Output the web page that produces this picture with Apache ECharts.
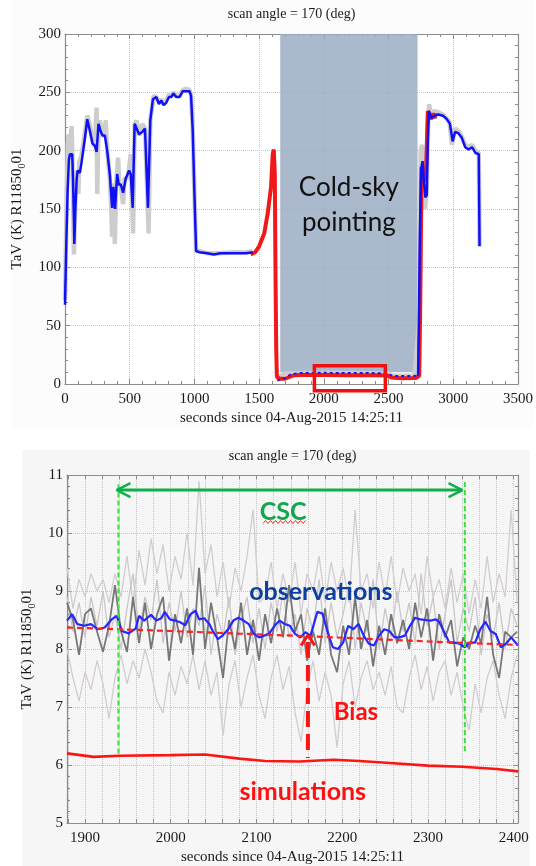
<!DOCTYPE html>
<html>
<head>
<meta charset="utf-8">
<script src="https://cdn.jsdelivr.net/npm/echarts@6.0.0/dist/echarts.min.js"></script>
<style>
  html, body { margin: 0; padding: 0; background: #fff; }
  #chart { width: 536px; height: 866px; }
</style>
</head>
<body>
<div id="chart"></div>
<script>
// ---------- top panel: full pass ----------
const topBlue = [[0,68],[10,120],[20,165],[30,192],[38,197],[56,197],[62,175],[69,140],[72,120],[80,150],[90,175],[97,183],[115,181],[128,190],[154,211],[172,227],[192,217],[213,206],[231,204],[244,199],[259,223],[274,217],[290,213],[308,213],[326,200],[346,180],[364,151],[374,169],[387,150],[403,180],[415,171],[431,171],[449,164],[469,176],[495,183],[508,180],[523,151],[538,223],[551,224],[572,214],[597,216],[618,219],[628,189],[641,151],[659,226],[679,244],[705,246],[726,240],[744,243],[762,239],[782,241],[803,246],[821,246],[838,249],[859,246],[885,246],[910,251],[936,251],[962,251],[974,247],[987,217],[1000,163],[1013,114],[1038,113],[1100,112],[1150,111],[1200,112],[1300,112],[1400,112],[1450,113],[1550,null],[2728,7],[2735,60],[2742,129],[2752,185],[2763,191],[2772,175],[2784,160],[2795,162],[2803,206],[2811,234],[2830,228],[2855,230],[2882,231],[2921,230],[2950,227],[2974,223],[2995,208],[3013,216],[3039,215],[3066,211],[3092,203],[3118,201],[3145,203],[3171,198],[3197,197],[3203,118]];
const topBlueCold = [[1640,3],[1700,5],[1740,8],[1800,9.3],[1900,9.5],[2000,9.6],[2100,9.5],[2200,9.5],[2300,9.4],[2400,9.3],[2480,9.2],[2520,7.5],[2560,6.8],[2650,6.8],[2720,7]];
const topGray = [[0,72],[12,150],[22,205],[28,214],[38,200],[51,221],[58,190],[66,130],[69,111],[75,135],[85,175],[95,183],[103,163],[110,190],[128,196],[150,212],[172,230],[192,222],[213,208],[231,205],[244,237],[249,163],[259,222],[269,226],[285,214],[300,212],[315,226],[326,200],[346,177],[358,150],[364,126],[374,172],[385,120],[395,170],[410,194],[420,172],[431,170],[449,154],[460,176],[487,177],[495,185],[508,197],[518,165],[526,129],[538,222],[551,226],[572,213],[597,223],[618,219],[628,188],[646,129],[659,226],[685,247],[705,246],[726,241],[744,244],[762,240],[782,243],[803,248],[821,247],[838,250],[859,247],[885,247],[910,252],[936,253],[962,252],[974,248],[987,218],[1000,163],[1013,114],[1038,114],[1100,112],[1200,112],[1300,113],[1400,113],[1450,114],[1550,null],[1650,6],[1700,9],[1800,9.5],[2000,9.6],[2200,9.5],[2400,9.3],[2500,9],[2530,7],[2700,7],[2740,60],[2748,200],[2760,205],[2772,180],[2782,150],[2795,165],[2803,215],[2813,240],[2825,230],[2845,234],[2880,233],[2920,231],[2970,225],[2990,205],[3013,219],[3040,217],[3066,212],[3092,205],[3118,203],[3145,205],[3171,200],[3197,198],[3203,118]];
const topRed = [[1434,111],[1470,113],[1500,118],[1539,129],[1566,146],[1592,169],[1605,197],[1613,201],[1621,180],[1626,100],[1632,30],[1637,6],[1660,4.5],[1700,4.5],[1735,6],[1770,7.5],[1850,7.8],[2000,7.8],[2200,7.6],[2400,7.5],[2490,7.3],[2520,5.5],[2600,5],[2711,5.2],[2737,7],[2745,72],[2755,186],[2768,184],[2776,174],[2789,180],[2803,234],[2816,235],[2829,227],[2842,232],[2855,228],[2868,232]];
const coldSky = [1663, 2724];          // shaded cold-sky pointing window (x)
const zoomBox = [1927, 2475, -5.7, 15.7]; // red box = lower panel range (x0, x1, y0, y1)

const topXTicks = [0, 3500, 500];
const topYTicks = [0, 300, 50];

// ---------- bottom panel: cold-sky zoom ----------
const noiseX = [1879,1886,1893,1900,1907,1914,1921,1928,1935,1942,1949,1956,1963,1970,1977,1984,1991,1998,2005,2012,2019,2026,2033,2040,2047,2054,2061,2068,2075,2082,2089,2096,2103,2110,2117,2124,2131,2138,2145,2152,2159,2166,2173,2180,2187,2194,2201,2208,2215,2222,2229,2236,2243,2250,2257,2264,2271,2278,2285,2292,2299,2306,2313,2320,2327,2334,2341,2348,2355,2362,2369,2376,2383,2390,2397,2404];
const obsDark = [8.8,8.5,7.9,8.6,8.7,8.3,7.95,8.4,9.1,8.3,7.95,8.9,8.1,8.8,8.0,8.6,8.9,7.8,8.6,8.1,8.7,7.9,9.4,8.0,8.8,8.2,7.5,8.5,8.0,8.8,7.9,8.5,7.8,8.6,8.1,8.7,8.2,9.1,8.3,8.6,7.8,8.3,7.9,8.7,7.9,7.6,8.4,7.9,8.9,8.0,8.5,7.7,8.4,7.9,8.6,8.1,8.5,8.0,8.8,8.2,8.7,7.8,8.6,8.2,8.5,7.7,8.2,8.0,8.4,8.1,8.9,7.9,7.5,8.3,8.2,8.3];
const obsLightA = [9.4,8.7,9.2,8.9,9.3,9.0,9.2,8.8,9.3,8.9,9.6,8.8,9.7,9.1,9.9,9.3,9.8,9.0,9.6,9.2,10.0,9.1,10.9,9.3,9.8,8.9,9.5,8.7,9.4,9.0,9.6,10.4,8.8,8.9,9.5,8.7,9.3,8.8,9.5,8.6,9.3,9.0,9.6,8.8,9.5,9.0,9.4,8.8,10.4,9.0,9.3,8.7,9.5,8.9,9.6,8.8,9.4,9.0,9.3,8.6,9.6,8.9,9.2,8.7,9.4,8.8,9.3,8.6,9.2,8.7,9.6,8.8,9.3,8.9,10.4,8.8];
const obsLightB = [8.0,7.5,7.1,7.6,7.3,7.8,7.4,6.8,7.5,7.9,7.4,7.8,7.5,8.0,7.6,7.1,6.9,7.6,7.2,7.7,7.4,7.9,7.3,7.8,7.2,7.6,6.5,7.4,7.8,7.0,7.5,7.9,7.2,6.8,7.5,7.9,7.3,7.7,6.9,6.4,7.3,7.8,7.1,7.6,7.2,6.3,7.4,7.8,7.0,7.5,7.8,7.3,7.6,7.2,7.7,7.0,6.9,7.5,7.9,7.3,7.7,7.1,7.6,7.8,7.2,7.6,7.0,6.6,7.4,6.9,7.5,7.8,7.2,6.8,7.5,7.9];
const obsLightC = [8.9,8.3,8.8,8.2,8.9,8.4,9.0,8.2,8.6,8.0,8.7,9.3,8.3,8.9,8.5,9.2,8.1,8.8,8.3,9.0,8.2,8.7,8.4,9.1,7.9,8.6,8.2,8.9,7.9,8.5,8.9,8.1,8.7,8.0,8.8,8.3,9.0,8.2,8.6,7.9,8.7,8.3,9.2,8.1,8.8,8.2,8.6,9.1,8.0,8.8,8.3,9.2,8.0,8.7,8.2,9.0,8.3,8.8,8.1,9.3,8.4,8.9,8.0,8.6,9.2,8.1,8.7,8.3,8.9,7.9,8.6,8.2,8.8,8.0,8.7,8.4];
const obsSmooth = [[1879,8.49],[1885,8.6],[1891,8.43],[1899,8.4],[1907,8.43],[1915,8.34],[1923,8.37],[1931,8.51],[1937,8.57],[1943,8.31],[1951,8.27],[1959,8.35],[1963,8.57],[1969,8.49],[1977,8.59],[1983,8.49],[1989,8.53],[1993,8.64],[1999,8.51],[2005,8.49],[2011,8.46],[2017,8.41],[2023,8.6],[2029,8.66],[2033,8.51],[2039,8.53],[2045,8.43],[2049,8.31],[2055,8.17],[2061,8.24],[2067,8.34],[2073,8.49],[2079,8.54],[2085,8.49],[2091,8.43],[2097,8.26],[2103,8.2],[2109,8.23],[2115,8.27],[2121,8.4],[2127,8.49],[2133,8.43],[2139,8.4],[2145,8.26],[2151,8.2],[2157,8.29],[2163,8.23],[2171,8.64],[2177,8.61],[2183,8.29],[2189,8.03],[2195,8.0],[2201,8.11],[2207,8.4],[2213,8.34],[2219,8.43],[2225,8.23],[2231,8.09],[2237,8.06],[2243,8.23],[2249,8.34],[2255,8.31],[2261,8.2],[2267,8.2],[2273,8.23],[2279,8.4],[2285,8.54],[2291,8.51],[2297,8.5],[2303,8.49],[2309,8.51],[2313,8.47],[2319,8.29],[2325,8.11],[2331,8.11],[2337,8.09],[2343,8.03],[2349,8.11],[2355,8.11],[2361,8.34],[2367,8.47],[2373,8.31],[2379,8.26],[2385,8.03],[2391,8.09],[2397,8.2],[2405,8.06]];
const obsTrend = [[1879,8.37],[2000,8.31],[2160,8.22],[2300,8.13],[2405,8.07]];
const simulation = [[1879,6.2],[1910,6.14],[1940,6.16],[2000,6.17],[2040,6.18],[2080,6.11],[2110,6.07],[2150,6.06],[2190,6.09],[2220,6.07],[2260,6.03],[2300,5.99],[2340,5.97],[2380,5.93],[2405,5.89]];
const cscStart = 1939, cscEnd = 2343;
const biasAt = 2160;

const botXLabels = [1900, 2000, 2100, 2200, 2300, 2400];
const botXTicks = [1880,1900,1920,1940,1960,1980,2000,2020,2040,2060,2080,2100,2120,2140,2160,2180,2200,2220,2240,2260,2280,2300,2320,2340,2360,2380,2400];

const serif = "'Liberation Serif', 'Times New Roman', serif";
const sans = 'Lato';
const frame = '#8c8c8c';
const ink = '#1a1a1a';

const yName = 'TaV (K) R11850{s|0}01';
const yNameStyle = {
  fontFamily: serif, fontSize: 15, color: ink,
  rich: { s: { fontFamily: serif, fontSize: 10, color: ink, padding: [9, 0, 0, 0] } }
};

// shared axis look (IDL style: boxed, ticks pointing in)
const axisBase = (extra) => Object.assign({
  type: 'value',
  axisLine: { show: true, onZero: false, lineStyle: { color: frame, width: 1.2 } },
  axisTick: { show: true, inside: true, length: 5, lineStyle: { color: frame } },
  minorTick: { show: true, splitNumber: 5, length: 3, lineStyle: { color: frame } },
  splitLine: { show: false },
  axisLabel: { show: false }
}, extra);

const gridLine = { show: true, lineStyle: { color: '#c4c4c4', type: 'dotted', width: 1 } };
const tickLabel = {
  show: true, fontFamily: serif, fontSize: 15, color: ink,
  formatter: (v) => '{t|' + v + '}',
  rich: { t: { fontFamily: serif, fontSize: 15, color: ink } }
};

const chart = echarts.init(document.getElementById('chart'), null, { renderer: 'canvas' });

const zig = [];
for (let i = 0; i <= 17; i++) zig.push([263 + i * 2.5, i % 2 ? 520.5 : 523.5]);

const option = {
  backgroundColor: '#ffffff',
  animation: false,
  textStyle: { fontFamily: serif },
  graphic: [
    { id: 'bgTop', type: 'rect', z: -10, silent: true, shape: { x: 12, y: 0, width: 521, height: 427 }, style: { fill: '#fcfcfc' } },
    { id: 'bgBot', type: 'rect', z: -10, silent: true, shape: { x: 22, y: 450, width: 508, height: 416 }, style: { fill: '#f6f6f6' } },
    { id: 'squiggle', type: 'polyline', z: 50, silent: true, shape: { points: zig }, style: { stroke: '#e03030', lineWidth: 1, fill: null } }
  ],
  grid: [
    { left: 65, top: 34, width: 454, height: 350, backgroundColor: '#ffffff', show: true, borderWidth: 0 },
    { left: 67, top: 475, width: 451, height: 348 }
  ],
  xAxis: [
    axisBase({
      gridIndex: 0, position: 'bottom', min: topXTicks[0], max: topXTicks[1], interval: topXTicks[2],
      splitLine: gridLine, axisLabel: Object.assign({ margin: 8 }, tickLabel),
      name: 'seconds since 04-Aug-2015 14:25:11', nameLocation: 'middle', nameGap: 27,
      nameTextStyle: { fontFamily: serif, fontSize: 15, color: ink }
    }),
    axisBase({
      gridIndex: 0, position: 'top', min: topXTicks[0], max: topXTicks[1], interval: topXTicks[2],
      name: 'scan angle = 170 (deg)', nameLocation: 'middle', nameGap: 13,
      nameTextStyle: { fontFamily: serif, fontSize: 14, color: ink }
    }),
    axisBase({
      gridIndex: 1, position: 'bottom', min: 1879, max: 2405,
      minorTick: { show: false },
      axisTick: { show: true, inside: true, length: 4, customValues: botXTicks, lineStyle: { color: frame } },
      splitLine: gridLine, axisLabel: Object.assign({ margin: 8, customValues: botXLabels }, tickLabel),
      name: 'seconds since 04-Aug-2015 14:25:11', nameLocation: 'middle', nameGap: 27,
      nameTextStyle: { fontFamily: serif, fontSize: 15, color: ink }
    }),
    axisBase({
      gridIndex: 1, position: 'top', min: 1879, max: 2405,
      minorTick: { show: false },
      axisTick: { show: true, inside: true, length: 4, customValues: botXTicks, lineStyle: { color: frame } },
      name: 'scan angle = 170 (deg)', nameLocation: 'middle', nameGap: 12,
      nameTextStyle: { fontFamily: serif, fontSize: 14, color: ink }
    })
  ],
  yAxis: [
    axisBase({
      gridIndex: 0, position: 'left', min: topYTicks[0], max: topYTicks[1], interval: topYTicks[2],
      splitLine: gridLine, axisLabel: Object.assign({ margin: 4 }, tickLabel),
      name: yName, nameLocation: 'middle', nameGap: 38, nameRotate: 90, nameTextStyle: yNameStyle
    }),
    axisBase({ gridIndex: 0, position: 'right', min: topYTicks[0], max: topYTicks[1], interval: topYTicks[2] }),
    axisBase({
      gridIndex: 1, position: 'left', min: 5, max: 11, interval: 1,
      splitLine: gridLine, axisLabel: Object.assign({ margin: 4 }, tickLabel),
      name: yName, nameLocation: 'middle', nameGap: 30, nameRotate: 90, nameTextStyle: yNameStyle
    }),
    axisBase({ gridIndex: 1, position: 'right', min: 5, max: 11, interval: 1 })
  ],
  series: [
    // --- top panel ---
    {
      type: 'line', xAxisIndex: 0, yAxisIndex: 0, data: [], silent: true,
      markArea: {
        silent: true,
        itemStyle: { color: 'rgba(155,173,194,0.85)' },
        label: {
          show: true, position: 'inside', offset: [0, 2],
          formatter: 'Cold-sky\npointing', fontFamily: sans, fontSize: 26, lineHeight: 35, color: '#111'
        },
        data: [[{ coord: [coldSky[0], 10] }, { coord: [coldSky[1], 300] }]]
      }
    },
    { type: 'line', xAxisIndex: 0, yAxisIndex: 0, data: topGray, showSymbol: false, lineStyle: { color: '#cdcdcd', width: 4.5 } },
    { type: 'line', xAxisIndex: 0, yAxisIndex: 0, data: topRed, showSymbol: false, lineStyle: { color: '#f01818', width: 4 } },
    { type: 'line', xAxisIndex: 0, yAxisIndex: 0, data: topBlueCold, showSymbol: false, lineStyle: { color: '#1818f0', width: 2, type: [3, 3] } },
    { type: 'line', xAxisIndex: 0, yAxisIndex: 0, data: topBlue, showSymbol: false, lineStyle: { color: '#1010f5', width: 2.5 } },
    // --- bottom panel ---
    { type: 'line', xAxisIndex: 2, yAxisIndex: 2, data: noiseX.map((x, i) => [x, obsLightA[i]]), showSymbol: false, lineStyle: { color: '#d2ccd2', width: 1.3 } },
    { type: 'line', xAxisIndex: 2, yAxisIndex: 2, data: noiseX.map((x, i) => [x, obsLightB[i]]), showSymbol: false, lineStyle: { color: '#d2ccd2', width: 1.3 } },
    { type: 'line', xAxisIndex: 2, yAxisIndex: 2, data: noiseX.map((x, i) => [x, obsLightC[i]]), showSymbol: false, lineStyle: { color: '#cac6ca', width: 1.3 } },
    { type: 'line', xAxisIndex: 2, yAxisIndex: 2, data: noiseX.map((x, i) => [x, obsDark[i]]), showSymbol: false, lineStyle: { color: '#777777', width: 1.8 } },
    { type: 'line', xAxisIndex: 2, yAxisIndex: 2, data: obsSmooth, showSymbol: false, lineStyle: { color: '#2626ff', width: 2.2 } },
    { type: 'line', xAxisIndex: 2, yAxisIndex: 2, data: obsTrend, showSymbol: false, lineStyle: { color: '#ff2020', width: 2.2, type: [6, 4] } },
    { type: 'line', xAxisIndex: 2, yAxisIndex: 2, data: simulation, showSymbol: false, lineStyle: { color: '#ff1414', width: 2.6 } },
    // CSC window: dashed bounds + double arrow
    { type: 'line', xAxisIndex: 2, yAxisIndex: 2, data: [[cscStart, 6.2], [cscStart, 10.88], [null, null], [cscEnd, 10.88], [cscEnd, 6.2]], showSymbol: false, lineStyle: { color: '#3ce03c', width: 2, type: [5, 3] } },
    { type: 'line', xAxisIndex: 2, yAxisIndex: 2, data: [[cscStart - 2, 10.74], [cscEnd - 3, 10.74]], showSymbol: false, lineStyle: { color: '#0fae4c', width: 3 } },
    { type: 'line', xAxisIndex: 2, yAxisIndex: 2, data: [[cscStart + 14, 10.86], [cscStart - 2, 10.74], [cscStart + 14, 10.62], [null, null], [cscEnd - 19, 10.86], [cscEnd - 3, 10.74], [cscEnd - 19, 10.62]], showSymbol: false, lineStyle: { color: '#0fae4c', width: 2.5 } },
    // bias arrow
    { type: 'line', xAxisIndex: 2, yAxisIndex: 2, data: [[biasAt, 8.12], [biasAt, 6.12]], showSymbol: false, lineStyle: { color: '#ff1414', width: 4, type: [16, 7] } },
    { type: 'line', xAxisIndex: 2, yAxisIndex: 2, data: [[biasAt - 8, 8.06], [biasAt, 8.24], [biasAt + 8, 8.06]], showSymbol: false, lineStyle: { color: '#ff1414', width: 3 } },
    // text labels
    {
      type: 'line', xAxisIndex: 2, yAxisIndex: 2, data: [], silent: true, z: 20,
      markPoint: {
        symbol: 'circle', symbolSize: 0, silent: true,
        label: { show: true, position: 'inside', fontFamily: sans, fontWeight: 'bold' },
        data: [
          { coord: [2131, 10.37], label: { formatter: 'CSC', fontSize: 25, color: '#10a84a' } },
          { coord: [2175, 8.98], label: { formatter: 'observations', fontSize: 25, color: '#0d3f9f' } },
          { coord: [2216, 6.91], label: { formatter: 'Bias', fontSize: 24, color: '#ff1010' } },
          { coord: [2154, 5.53], label: { formatter: 'simulations', fontSize: 25, color: '#ff1010' } }
        ]
      }
    }
  ]
};

chart.setOption(option);

// red zoom box runs below the x axis, so place it through the axis scales after layout
const boxA = chart.convertToPixel({ xAxisIndex: 0, yAxisIndex: 0 }, [zoomBox[0], zoomBox[3]]);
const boxB = chart.convertToPixel({ xAxisIndex: 0, yAxisIndex: 0 }, [zoomBox[1], zoomBox[2]]);
chart.setOption({
  graphic: [{
    id: 'zoomBox', type: 'rect', z: 60, silent: true,
    shape: { x: boxA[0], y: boxA[1], width: boxB[0] - boxA[0], height: boxB[1] - boxA[1] },
    style: { fill: null, stroke: '#f01010', lineWidth: 3.5 }
  }]
});
</script>
</body>
</html>
